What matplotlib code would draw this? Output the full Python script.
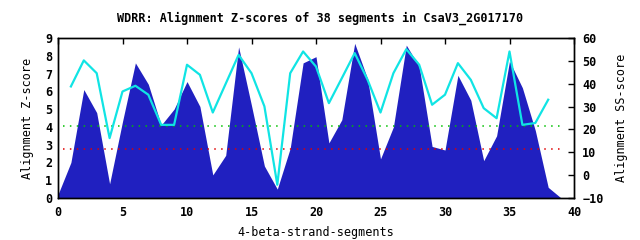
import numpy as np
import matplotlib
matplotlib.use("Agg")
import matplotlib.pyplot as plt

# segment index -> alignment Z-score (filled area, left axis)
seg = list(range(40))
zscore = [0.2, 2.0, 6.1, 4.8, 0.8, 4.3, 7.6, 6.4, 4.1, 5.0,
          6.55, 5.15, 1.3, 2.4, 8.5, 5.2, 1.8, 0.5, 2.8, 7.6,
          7.95, 3.1, 4.4, 8.7, 6.7, 2.2, 4.0, 8.6, 7.4, 2.9,
          2.7, 6.9, 5.5, 2.1, 3.5, 7.7, 6.2, 3.8, 0.6, 0.0]

# segment index -> alignment SS-score (cyan line, right axis)
ss_seg = list(range(1, 39))
ss_score = [38.8, 50.2, 44.6, 16.2, 36.6, 39.1, 35.2, 22.0, 22.0, 48.3,
            43.9, 27.4, 40.0, 52.6, 44.6, 30.1, -4.2, 44.6, 54.1, 47.5,
            31.5, 42.4, 53.4, 41.7, 27.4, 44.6, 55.1, 48.3, 30.8, 35.2,
            49.0, 41.7, 29.3, 24.9, 54.1, 22.0, 22.8, 33.0]

green_level = 4.03
red_level = 2.77
thr_x = [0.4, 39.0]

title = "WDRR: Alignment Z-scores of 38 segments in CsaV3_2G017170"

plt.rcParams["font.family"] = ["DejaVu Sans Mono"]
plt.rcParams["font.weight"] = "bold"
plt.rcParams["font.size"] = 8.5

fig = plt.figure(figsize=(6.4, 2.4), dpi=100)
ax = fig.add_axes([58 / 640, 42 / 240, 516 / 640, 160 / 240])

ax.fill_between(seg, 0, zscore, color="#2020c0", lw=0, zorder=1)
ax.plot(thr_x, [green_level] * 2, color="#00c000", lw=1.1,
        linestyle=(0, (1, 3.5)), zorder=2)
ax.plot(thr_x, [red_level] * 2, color="#e00000", lw=1.1,
        linestyle=(0, (1, 3.5)), zorder=2)

ax.set_xlim(0, 40)
ax.set_ylim(0, 9)
ax.set_xticks(range(0, 41, 5))
ax.set_yticks(range(0, 10))
ax.tick_params(axis="y", left=False, length=0, pad=4)
ax.tick_params(axis="x", bottom=False, top=True, direction="in",
               length=4, width=1, pad=6, labeltop=False)
ax.set_xlabel("4-beta-strand-segments", labelpad=5)
ax.set_ylabel("Alignment Z-score", labelpad=8)

ax2 = ax.twinx()
ax2.plot(ss_seg, ss_score, color="#10e4e4", lw=1.6, zorder=3)
ax2.set_ylim(-10, 60)
ax2.set_yticks(range(-10, 61, 10))
ax2.tick_params(axis="y", direction="in", length=4, width=1, pad=6)
ax2.set_ylabel("Alignment SS-score", labelpad=8)

for a in (ax, ax2):
    for s in a.spines.values():
        s.set_linewidth(1)
        s.set_color("black")

fig.text(0.5, 1 - 18 / 240, title, ha="center", va="center")

fig.savefig("out.png", dpi=100)
